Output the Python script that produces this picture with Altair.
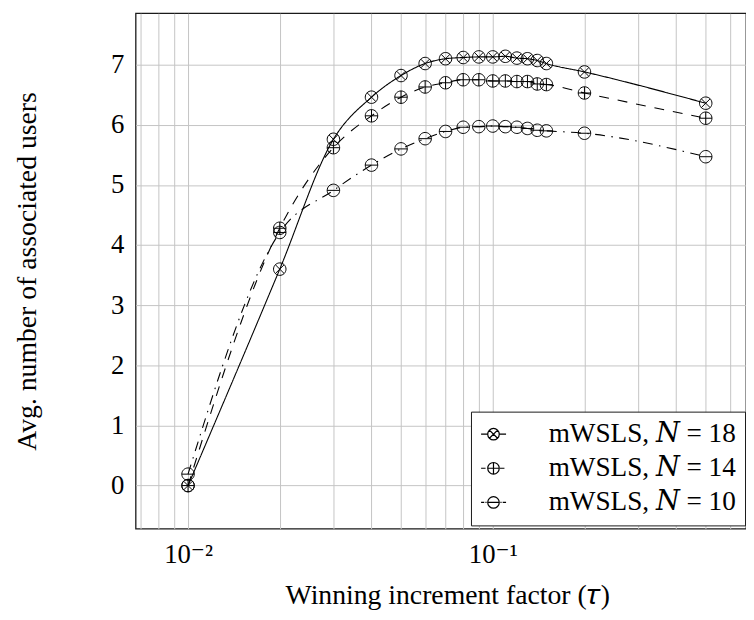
import altair as alt
import pandas as pd

# ---- data ----
tau = [0.01, 0.02, 0.03, 0.04, 0.05, 0.06, 0.07, 0.08, 0.09, 0.10,
       0.11, 0.12, 0.13, 0.14, 0.15, 0.2, 0.5]
n18 = [0.00, 3.60, 5.76, 6.46, 6.82, 7.02, 7.10, 7.12, 7.13, 7.13,
       7.14, 7.11, 7.10, 7.07, 7.02, 6.88, 6.36]
n14 = [0.00, 4.28, 5.62, 6.15, 6.46, 6.63, 6.70, 6.75, 6.75, 6.73,
       6.73, 6.72, 6.72, 6.68, 6.67, 6.53, 6.11]
n10 = [0.19, 4.21, 4.91, 5.33, 5.60, 5.77, 5.89, 5.96, 5.97, 5.98,
       5.97, 5.96, 5.94, 5.91, 5.90, 5.86, 5.47]
series_labels = ["mWSLS, \U0001D441 = 18", "mWSLS, \U0001D441 = 14", "mWSLS, \U0001D441 = 10"]
x_grid = [0.007, 0.008, 0.009, 0.01, 0.02, 0.03, 0.04, 0.05, 0.06, 0.07,
          0.08, 0.09, 0.1, 0.2, 0.3, 0.4, 0.5, 0.6]
y_ticks = [0, 1, 2, 3, 4, 5, 6, 7]

rows = []
for lab, vals in zip(series_labels, [n18, n14, n10]):
    for t, v in zip(tau, vals):
        rows.append({"tau": t, "users": v, "series": lab, "key": lab})
df = pd.DataFrame(rows)

# ---- marker glyphs (unit paths) ----
CIRC = ("M1,0C1,0.5523,0.5523,1,0,1C-0.5523,1,-1,0.5523,-1,0"
        "C-1,-0.5523,-0.5523,-1,0,-1C0.5523,-1,1,-0.5523,1,0Z")
OTIMES = CIRC + "M-0.707,-0.707L0.707,0.707M-0.707,0.707L0.707,-0.707"
OPLUS = CIRC + "M-1,0L1,0M0,-1L0,1"
OMINUS = CIRC + "M-1,0L1,0"
LEG18 = OTIMES + "M-2.15,0L-1,0M1,0L2.18,0"
LEG14 = OPLUS + "M-2.15,0L-1.37,0M1.13,0L1.9,0"
LEG10 = OMINUS + "M-2.15,0L-1.6,0M-1.4,0L-1.2,0M1.2,0L1.4,0M1.6,0L2.18,0"

FONT = "Liberation Serif, DejaVu Serif, serif"

xscale = alt.Scale(type="log", domain=[0.006729, 0.6779], nice=False)
yscale = alt.Scale(domain=[-0.717, 7.856], nice=False, zero=False)

xaxis = alt.Axis(
    values=x_grid,
    labelExpr="datum.value == 0.01 ? '10\u207b\u00b2' : (datum.value == 0.1 ? '10\u207b\u00b9' : '')",
    grid=True, gridColor="#c4c4c4", gridWidth=1,
    ticks=False, tickSize=0, domain=False,
    labelPadding=34, labelBaseline="alphabetic", labelFont=FONT, labelFontSize=27,
    labelColor="black", labelOverlap=False, labelFlush=False,
    title="Winning increment factor (\U0001D70F)", titleFont=FONT, titleFontSize=28,
    titleFontWeight="normal", titleColor="black", titleX=315, titleY=76,
    titleBaseline="alphabetic", titleAlign="center",
)
yaxis = alt.Axis(
    values=y_ticks, grid=True, gridColor="#c4c4c4", gridWidth=1,
    ticks=False, tickSize=0, domain=False,
    labelPadding=12, labelFont=FONT, labelFontSize=27, labelColor="black",
    title="Avg. number of associated users", titleFont=FONT, titleFontSize=28,
    titleFontWeight="normal", titleColor="black", titleX=-109,
    titleBaseline="middle", titleAngle=270,
)

base = alt.Chart(df)
x = alt.X("tau:Q", scale=xscale, axis=xaxis)
y = alt.Y("users:Q", scale=yscale, axis=yaxis)

lines = base.mark_line(interpolate="monotone", color="black", strokeWidth=1.1).encode(
    x=x, y=y,
    strokeDash=alt.StrokeDash("series:N",
                              scale=alt.Scale(domain=series_labels,
                                              range=[[1, 0], [10, 9], [10, 6.5, 1.5, 6.5]]),
                              legend=None),
)

points = base.mark_point(filled=False, color="black", strokeWidth=1, size=159, opacity=1).encode(
    x=x, y=y,
    shape=alt.Shape("series:N",
                    scale=alt.Scale(domain=series_labels, range=[OTIMES, OPLUS, OMINUS]),
                    legend=None),
)

legend_layer = base.transform_filter("datum.tau < 0").mark_point(
    filled=False, color="black", strokeWidth=1.2, opacity=1).encode(
    x=x, y=y,
    shape=alt.Shape("key:N",
                    scale=alt.Scale(domain=series_labels, range=[LEG18, LEG14, LEG10]),
                    legend=alt.Legend(
                        title=None, orient="none", legendX=339, legendY=402.7,
                        strokeColor="#1a1a1a", fillColor="white", padding=9,
                        rowPadding=5.5, symbolSize=136, symbolStrokeWidth=1.2,
                        symbolStrokeColor="black", symbolFillColor="transparent",
                        symbolOpacity=1,
                        symbolOffset=0, labelOffset=42, labelFont=FONT,
                        labelFontSize=27.5, labelColor="black", labelLimit=400,
                    )),
)

chart = alt.layer(lines, points, legend_layer).resolve_scale(
    shape="independent"
).properties(
    width=617, height=521,
    autosize=alt.AutoSizeParams(type="none"),
    padding={"left": 129, "top": 2, "right": 0, "bottom": 89},
    background="white",
).configure_view(stroke="#1a1a1a", strokeWidth=1.3)

chart.save("out.html", embed_options={"renderer": "svg", "actions": False})
